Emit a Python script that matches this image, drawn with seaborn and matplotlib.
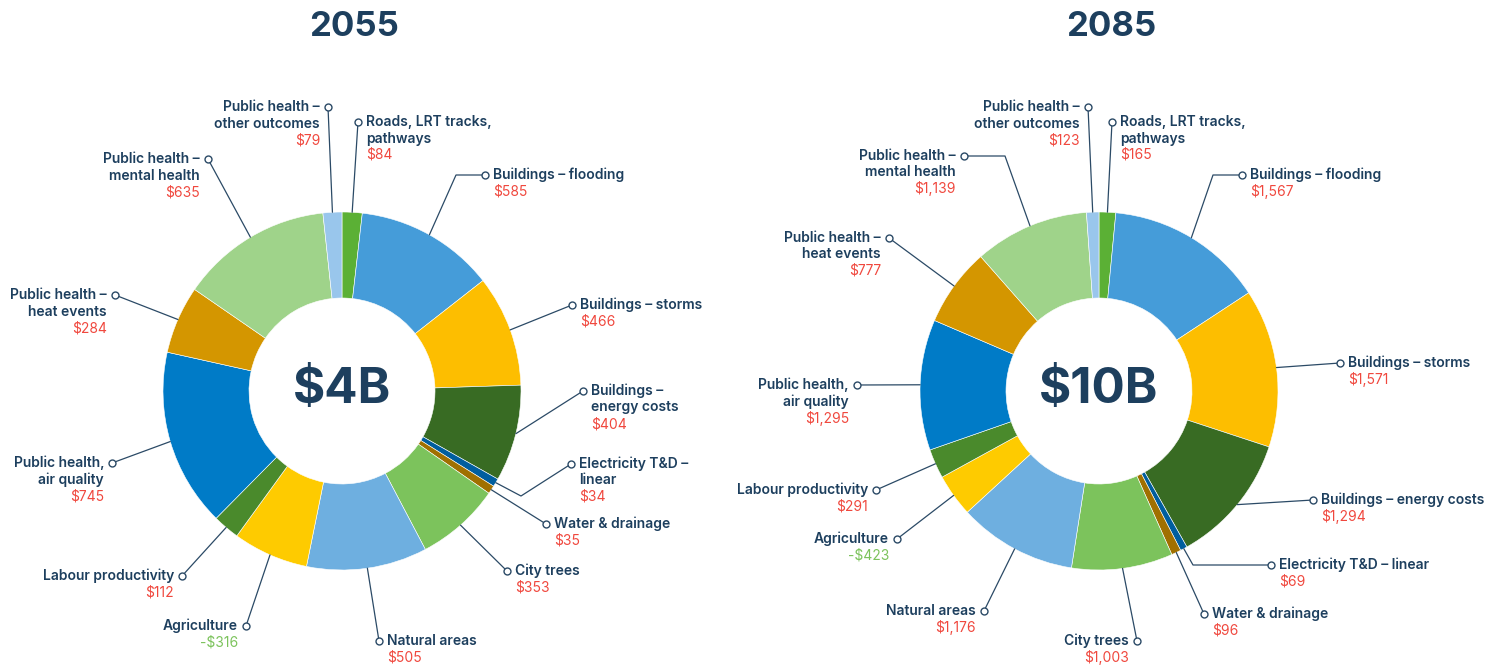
import numpy as np
import matplotlib
matplotlib.use("Agg")
import matplotlib.pyplot as plt
import seaborn as sns

# -------------------------------
# Data
# -------------------------------
categories = [
    "Roads", "Buildings flooding", "Buildings storms", "Buildings energy costs",
    "Electricity T&D", "Water & drainage", "City trees", "Natural areas",
    "Agriculture", "Labour productivity", "Public health air quality",
    "Public health heat events", "Public health mental health",
    "Public health other outcomes",
]
values_2055 = [84, 585, 466, 404, 34, 35, 353, 505, -316, 112, 745, 284, 635, 79]
values_2085 = [165, 1567, 1571, 1294, 69, 96, 1003, 1176, -423, 291, 1295, 777, 1139, 123]

labels_2055 = [
    "Roads, LRT tracks,\npathways", "Buildings – flooding", "Buildings – storms",
    "Buildings –\nenergy costs", "Electricity T&D –\nlinear", "Water & drainage",
    "City trees", "Natural areas", "Agriculture", "Labour productivity",
    "Public health,\nair quality", "Public health –\nheat events",
    "Public health –\nmental health", "Public health –\nother outcomes",
]
labels_2085 = [
    "Roads, LRT tracks,\npathways", "Buildings – flooding", "Buildings – storms",
    "Buildings – energy costs", "Electricity T&D – linear", "Water & drainage",
    "City trees", "Natural areas", "Agriculture", "Labour productivity",
    "Public health,\nair quality", "Public health –\nheat events",
    "Public health –\nmental health", "Public health –\nother outcomes",
]

colors = [
    "#5BB035", "#459CD9", "#FDBE00", "#386B23", "#005E9E", "#A07000", "#7CC35C",
    "#6EAFE0", "#FECB00", "#4A8A2C", "#007BC7", "#D49600", "#9FD38A", "#99C6EC",
]

# -------------------------------
# Layout (pixel coords, y down): label anchor, text side, optional elbow
# -------------------------------
layout_2055 = [
    (358, 122, "r", None), (485, 175, "r", (456, 175)), (572, 305, "r", None),
    (583, 391, "r", None), (571, 464, "r", (521, 496)), (546, 524, "r", None),
    (507, 571, "r", None), (379, 641, "r", None), (246, 626, "l", None),
    (182, 576, "l", None), (112, 463, "l", None), (115, 295, "l", None),
    (208, 159, "l", None), (328, 107, "l", None),
]
layout_2085 = [
    (1112, 122, "r", None), (1242, 175, "r", (1213, 175)), (1340, 363, "r", None),
    (1313, 500, "r", None), (1271, 565, "r", (1193, 565)), (1204, 614, "r", None),
    (1137, 641, "l", None), (984, 611, "l", None), (897, 539, "l", None),
    (876, 490, "l", None), (857, 385, "l", None), (889, 238, "l", None),
    (964, 156, "l", (1005, 156)), (1088, 107, "l", None),
]

W, H = 1494, 669
NAVY = "#1D3F5E"
LINE = "#2B4A66"
RED = "#F0483E"
GREEN = "#7CC35C"

sns.set_theme(style="white")
plt.rcParams["font.family"] = ["Inter", "DejaVu Sans"]

fig = plt.figure(figsize=(W / 100, H / 100), dpi=100)
ax = fig.add_axes([0, 0, 1, 1])


def fmt(v):
    return f"-${abs(v):,}" if v < 0 else f"${v:,}"


def draw_donut(values, labels, layout, center, year):
    cx, cy = center
    r_out, ring = 179, 86
    pal = sns.color_palette(colors)
    # y axis is inverted -> counterclock in data = clockwise on screen
    wedges, _ = ax.pie(
        np.abs(values), colors=pal, startangle=-90, counterclock=True,
        radius=r_out, center=(cx, cy),
        wedgeprops=dict(width=ring, edgecolor="white", linewidth=0.4),
    )
    for w, v, lab, (lx, ly, side, elbow) in zip(wedges, values, labels, layout):
        mid = np.deg2rad((w.theta1 + w.theta2) / 2)
        sx, sy = cx + r_out * np.cos(mid), cy + r_out * np.sin(mid)
        xs, ys = [sx], [sy]
        if elbow is not None:
            xs.append(elbow[0]); ys.append(elbow[1])
        xs.append(lx); ys.append(ly)
        ax.plot(xs, ys, color=LINE, lw=0.9, zorder=3)
        ax.plot(lx, ly, marker="o", ms=5, mfc="white", mec=LINE, mew=1, zorder=4)
        tx = lx + 8 if side == "r" else lx - 8
        ha = "left" if side == "r" else "right"
        lines = lab.split("\n")
        for i, t in enumerate(lines):
            ax.text(tx, ly + i * 16.5, t, ha=ha, va="center", fontsize=10,
                    color=NAVY, fontweight="semibold")
        ax.text(tx, ly + len(lines) * 16.5, fmt(v), ha=ha, va="center",
                fontsize=10, color=GREEN if v < 0 else RED)
    total = round(sum(values) / 1000)
    ax.text(cx, cy - 1, f"${total}B", ha="center", va="center", fontsize=35.5,
            fontweight="bold", color=NAVY)
    ax.text(cx + 12, 27, year, ha="center", va="center", fontsize=25,
            fontweight="bold", color=NAVY)


draw_donut(values_2055, labels_2055, layout_2055, (342, 391), "2055")
draw_donut(values_2085, labels_2085, layout_2085, (1099, 391), "2085")

ax.set_xlim(0, W)
ax.set_ylim(H, 0)
ax.set_aspect("equal")
ax.axis("off")

fig.savefig("out.png", dpi=100, facecolor="white")
